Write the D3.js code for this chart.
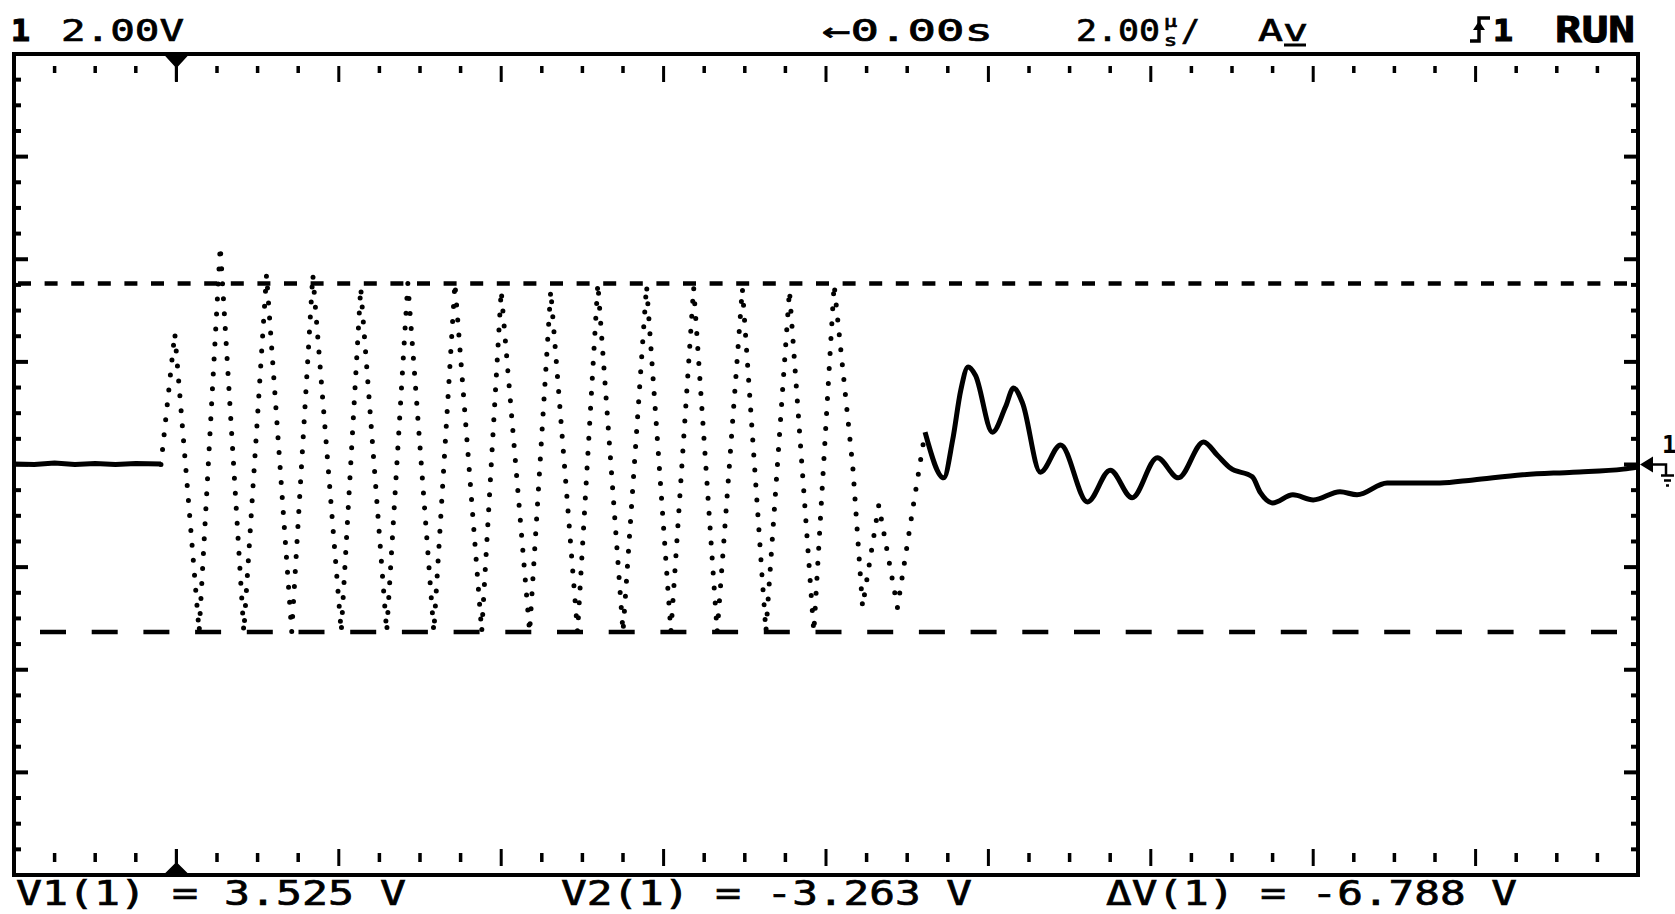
<!DOCTYPE html>
<html>
<head>
<meta charset="utf-8">
<script src="https://cdn.jsdelivr.net/npm/d3@7"></script>
<style>
  body { margin: 0; background: #fff; }
  svg { display: block; }
  text { fill: #000; font-family: "DejaVu Sans Mono", monospace; }
</style>
</head>
<body>
<div class="screen"></div>
<script>
var width = 1675;
var height = 914;

// scope settings: 10 x 8 divisions, 2 V/div, 2 us/div, trigger one div in
var timeDomain = [-2, 18];
var voltDomain = [-8, 8];

// cursor readings
var cursorV1 = 3.525;
var cursorV2 = -3.263;

// flat trace before the burst (us, V)
var leadT = [-2.0, -1.75, -1.5, -1.25, -1.0, -0.75, -0.5, -0.19];
var leadV = [0.01, 0.0, 0.03, 0.0, 0.02, 0.0, 0.02, 0.01];

// the burst, drawn dotted: peaks and troughs
var burstT = [-0.19, -0.02, 0.28, 0.54, 0.83, 1.11, 1.42, 1.68, 2.03, 2.27, 2.59, 2.85,
  3.17, 3.43, 3.76, 4.00, 4.35, 4.61, 4.94, 5.19, 5.50, 5.79, 6.09, 6.37, 6.66, 6.97,
  7.26, 7.55, 7.85, 8.10, 8.33, 8.45, 8.65, 8.88, 9.08, 9.22];
var burstV = [0.0, 2.56, -3.26, 4.25, -3.26, 3.70, -3.26, 3.70, -3.26, 3.45, -3.26, 3.53,
  -3.26, 3.53, -3.26, 3.39, -3.26, 3.39, -3.26, 3.53, -3.26, 3.49, -3.26, 3.45, -3.26, 3.43,
  -3.26, 3.39, -3.26, 3.51, -0.05, -2.77, -0.79, -2.79, -0.75, 0.63];

// ringing after the burst
var ringT = [9.22, 9.45, 9.56, 9.66, 9.75, 9.84, 10.05, 10.21, 10.31, 10.42, 10.64, 10.89,
  11.22, 11.50, 11.77, 12.08, 12.34, 12.65, 12.82, 12.98, 13.25, 13.35, 13.50, 13.75,
  14.00, 14.33, 14.54, 14.91, 15.56, 15.97, 16.58, 17.20, 17.82, 18.00];
var ringV = [0.63, -0.26, 0.48, 1.45, 1.90, 1.74, 0.63, 1.12, 1.49, 1.20, -0.15, 0.38,
  -0.73, -0.11, -0.65, 0.13, -0.26, 0.44, 0.18, -0.07, -0.24, -0.55, -0.75, -0.59,
  -0.69, -0.53, -0.59, -0.36, -0.36, -0.30, -0.20, -0.15, -0.09, -0.05];

// readouts
var readouts = ["V1(1) = 3.525 V", "V2(1) = -3.263 V", "\u0394V(1) = -6.788 V"];

var svg = d3.select(".screen").append("svg")
  .attr("width", width)
  .attr("height", height);

var x = d3.scaleLinear().domain(timeDomain).range([14, 1638]);
var y = d3.scaleLinear().domain(voltDomain).range([875, 54]);

var zip = function(ts, vs) {
  return ts.map(function(t, i) { return [t, vs[i]]; });
};

// ---- frame ----
svg.append("rect")
  .attr("x", x(timeDomain[0])).attr("y", y(voltDomain[1]))
  .attr("width", x(timeDomain[1]) - x(timeDomain[0]))
  .attr("height", y(voltDomain[0]) - y(voltDomain[1]))
  .attr("fill", "none").attr("stroke", "#000").attr("stroke-width", 4);

var xMajor = x.ticks(10);
var xMinor = x.ticks(50).filter(function(t) { return xMajor.indexOf(t) < 0; });
var yMajor = y.ticks(8);
var yMinor = y.ticks(32).filter(function(v) { return yMajor.indexOf(v) < 0; });
var inside = function(lo, hi) { return function(d) { return d > lo && d < hi; }; };

var ticks = svg.append("g").attr("stroke", "#000");

// top + bottom minor dots
[[66, 73], [853, 862]].forEach(function(r) {
  ticks.selectAll(null).data(xMinor.filter(inside(-2, 18))).enter().append("line")
    .attr("x1", function(d) { return x(d); }).attr("x2", function(d) { return x(d); })
    .attr("y1", r[0]).attr("y2", r[1]).attr("stroke-width", 3.5);
});
// top + bottom majors
[[66, 82], [849, 866]].forEach(function(r) {
  ticks.selectAll(null).data(xMajor.filter(inside(-2, 18))).enter().append("line")
    .attr("x1", function(d) { return x(d); }).attr("x2", function(d) { return x(d); })
    .attr("y1", r[0]).attr("y2", r[1]).attr("stroke-width", 3);
});
// left + right ticks
[[14, 1], [1638, -1]].forEach(function(s) {
  ticks.selectAll(null).data(yMinor).enter().append("line")
    .attr("x1", s[0]).attr("x2", s[0] + s[1] * 7)
    .attr("y1", function(d) { return y(d); }).attr("y2", function(d) { return y(d); })
    .attr("stroke-width", 4);
  ticks.selectAll(null).data(yMajor.filter(inside(-8, 8))).enter().append("line")
    .attr("x1", s[0]).attr("x2", s[0] + s[1] * 14)
    .attr("y1", function(d) { return y(d); }).attr("y2", function(d) { return y(d); })
    .attr("stroke-width", 4);
});

// trigger markers
var tx = x(0);
svg.append("path")
  .attr("d", "M" + (tx - 11) + ",54 L" + (tx + 11) + ",54 L" + tx + ",66 Z M" + tx + ",60 V81")
  .attr("fill", "#000").attr("stroke", "#000").attr("stroke-width", 3);
svg.append("path")
  .attr("d", "M" + (tx - 11) + ",875 L" + (tx + 11) + ",875 L" + tx + ",864 Z M" + tx + ",870 V849")
  .attr("fill", "#000").attr("stroke", "#000").attr("stroke-width", 3);

// ground marker on the right
var gy = y(0);
svg.append("path")
  .attr("d", "M1640," + gy + " L1653," + (gy - 8) + " L1653," + (gy + 8) + " Z")
  .attr("fill", "#000");
svg.append("path")
  .attr("d", "M1650," + gy + " H1666 V" + (gy + 11) +
    " M1661," + (gy + 11) + " H1674 M1664," + (gy + 16) + " H1671 M1666," + (gy + 21) + " H1669")
  .attr("fill", "none").attr("stroke", "#000").attr("stroke-width", 2.5);
svg.append("text").attr("x", 1662).attr("y", gy - 12)
  .attr("font-size", 24).attr("font-weight", "bold").text("1");

// ---- cursors ----
svg.append("line")
  .attr("x1", 18).attr("x2", 1632)
  .attr("y1", y(cursorV1)).attr("y2", y(cursorV1))
  .attr("stroke", "#000").attr("stroke-width", 4.5)
  .attr("stroke-dasharray", "13 13.6");
svg.append("line")
  .attr("x1", 40).attr("x2", 1630)
  .attr("y1", y(cursorV2)).attr("y2", y(cursorV2))
  .attr("stroke", "#000").attr("stroke-width", 4.5)
  .attr("stroke-dasharray", "26 25.7");

// ---- trace ----
var line = d3.line()
  .x(function(d) { return x(d[0]); })
  .y(function(d) { return y(d[1]); });

svg.append("path")
  .datum(zip(leadT, leadV))
  .attr("d", line)
  .attr("fill", "none").attr("stroke", "#000").attr("stroke-width", 5);

svg.append("path")
  .datum(zip(burstT, burstV))
  .attr("d", line)
  .attr("fill", "none").attr("stroke", "#000").attr("stroke-width", 5)
  .attr("stroke-linecap", "round")
  .attr("stroke-dasharray", "0 15");

svg.append("path")
  .datum(zip(ringT, ringV))
  .attr("d", line.curve(d3.curveMonotoneX))
  .attr("fill", "none").attr("stroke", "#000").attr("stroke-width", 5)
  .attr("stroke-linejoin", "round");

// ---- header ----
var head = svg.append("g").attr("font-size", 31).attr("stroke", "#000").attr("stroke-width", 0.7);
var put = function(g, str, px, py, len, extra) {
  var t = g.append("text").attr("x", px).attr("y", py).text(str);
  if (len) t.attr("textLength", len).attr("lengthAdjust", "spacingAndGlyphs");
  if (extra) extra(t);
  return t;
};
var bold = function(t) { t.attr("font-weight", "bold").attr("stroke-width", 1.2); };

put(head, "1", 11, 41, 19, bold);
put(head, "2.00V", 61, 41, 123);
put(head, "\u21900.00s", 822, 41, 171);
put(head, "2.00", 1076, 41, 84);
put(head, "\u00b5", 1164, 27, 13).attr("font-size", 15);
put(head, "s", 1164, 46, 13).attr("font-size", 15);
put(head, "/", 1181, 41, 19);
put(head, "Av", 1258, 41, 50);
head.append("line").attr("x1", 1284).attr("x2", 1306).attr("y1", 45).attr("y2", 45).attr("stroke-width", 3);

// trigger slope symbol
svg.append("path")
  .attr("d", "M1470,41 H1479 V18 H1490")
  .attr("fill", "none").attr("stroke", "#000").attr("stroke-width", 3.5);
svg.append("path")
  .attr("d", "M1473,30 L1479,21 L1485,30 Z")
  .attr("fill", "#000");
put(head, "1", 1493, 41, 20, bold);
put(head, "RUN", 1555, 42, 80, function(t) {
  t.attr("font-family", "'DejaVu Sans', sans-serif").attr("font-weight", "bold")
    .attr("font-size", 36).attr("stroke-width", 1);
});

// ---- readouts ----
var foot = svg.append("g").attr("font-size", 34).attr("stroke", "#000").attr("stroke-width", 0.7);
var footX = [16, 561, 1106];
var footLen = [390, 411, 411];
readouts.forEach(function(r, i) {
  put(foot, r, footX[i], 905, footLen[i]);
});
</script>
</body>
</html>
